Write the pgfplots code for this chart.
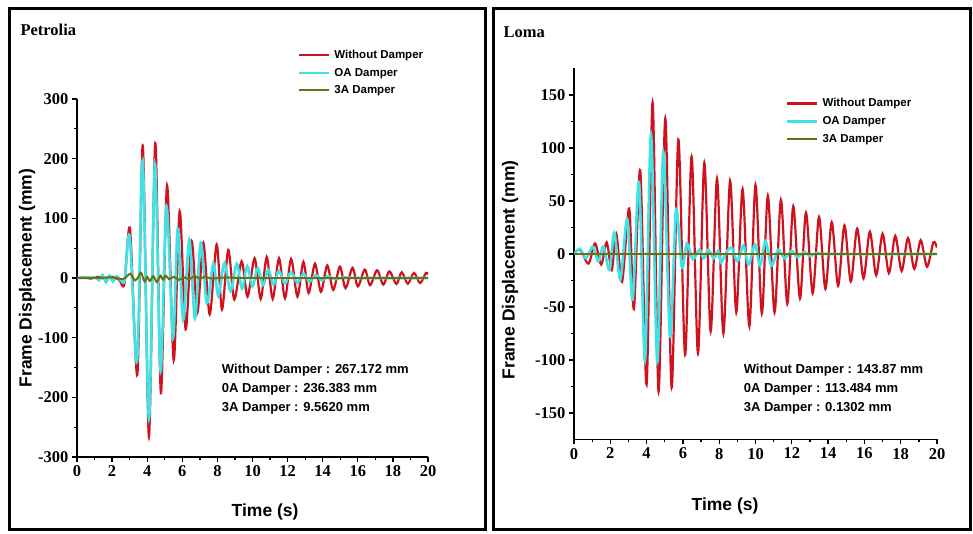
\documentclass[border=0pt]{standalone}
\usepackage{pgfplots}
\pgfplotsset{compat=1.18}
\usepackage{fontspec}
\setmainfont{Liberation Serif}
\setsansfont{Liberation Sans}
\definecolor{NoDamp}{HTML}{D0121F}
\definecolor{OADamp}{HTML}{3FE3E6}
\definecolor{ThreeADamp}{HTML}{6E6E12}

\pgfplotsset{
  panel/.style={
    scale only axis,
    anchor=south west,
    axis lines*=left,
    axis line style={line width=1.4pt},
    xmin=0, xmax=20,
    xtick={0,2,...,20},
    minor x tick num=1,
    minor y tick num=1,
    tick align=outside,
    major tick length=5pt,
    minor tick length=3pt,
    every tick/.style={line width=1.3pt, black},
    /pgf/number format/assume math mode=true,
    tick label style={font=\fontsize{16.5}{16.5}\selectfont\bfseries},
    label style={font=\sffamily\bfseries\fontsize{17.5}{19}\selectfont},
    legend cell align=left,
    legend image code/.code={\draw[#1] (0pt,0pt) -- (30pt,0pt);},
    legend style={draw=none, fill=none, anchor=north west,
      font=\sffamily\bfseries\fontsize{11.5}{13}\selectfont,
      row sep=4pt, column sep=2pt, nodes={inner sep=2pt}},
  },
  nod/.style={NoDamp, line width=2.2pt, smooth},
  oad/.style={OADamp, line width=2.6pt, smooth},
  tad/.style={ThreeADamp, line width=2pt, smooth},
}

\begin{document}
\begin{tikzpicture}[x=1pt,y=1pt]
\useasboundingbox (0,0) rectangle (973,534);
\draw[line width=3pt] (9,4) rectangle (485,525);
\draw[line width=3pt] (493,4) rectangle (970,525);
\node[anchor=west, font=\fontsize{16.5}{16.5}\selectfont\bfseries] at (17,504) {Petrolia};
\node[anchor=west, font=\fontsize{16.5}{16.5}\selectfont\bfseries] at (500,502) {Loma};

% Petrolia
\begin{axis}[panel,
  at={(77pt,77pt)}, width=351pt, height=358pt,
  ymin=-300, ymax=300, ytick={-300,-200,...,300},
  xlabel={Time (s)}, ylabel={Frame Displacement (mm)},
  xlabel style={at={(axis description cs:0.536,-0.154)}, anchor=center},
  ylabel style={at={(axis description cs:-0.142,0.5)}, anchor=center},
  legend style={at={(0.62,1.148)}},
]
\addplot[nod] coordinates {
(0,0) (0.4,1) (0.8,-1) (1.2,2) (1.6,-2) (2.0,2) (2.4,-3) (2.7,-10)
(3.02,82) (3.44,-162) (3.75,222) (4.1,-266) (4.46,226) (4.78,-193)
(5.13,155) (5.51,-138) (5.85,112) (6.19,-86) (6.53,62) (6.86,-58)
(7.2,59) (7.56,-61) (7.96,56) (8.26,-53) (8.62,47) (8.96,-36)
(9.38,28) (9.72,-31) (10.12,33) (10.47,-35) (10.81,35) (11.15,-35)
(11.51,33) (11.85,-34) (12.2,32) (12.56,-31) (12.9,27) (13.2,-25)
(13.56,24) (13.9,-23) (14.26,21) (14.6,-20) (14.98,19) (15.3,-17)
(15.7,17) (16.0,-14) (16.4,14) (16.7,-12) (17.1,13) (17.45,-11)
(17.8,11) (18.2,-10) (18.5,9.5) (18.85,-9.5) (19.2,8.5) (19.55,-8.5)
(19.88,8.5) (20,6)
};
\addplot[oad] coordinates {
(0,0) (1.0,1) (1.25,-4) (1.45,5) (1.65,-7) (1.85,4) (2.05,-6) (2.25,3)
(2.5,-4) (2.72,-3) (3.0,70) (3.42,-140) (3.74,196) (4.1,-236)
(4.44,190) (4.76,-156) (5.1,120) (5.47,-100) (5.74,82) (6.05,-70)
(6.4,64) (6.72,-68) (7.05,59) (7.4,-42) (7.77,24) (8.05,-30)
(8.4,25) (8.75,-22) (9.1,24) (9.4,-18) (9.7,20) (10.0,-14)
(10.3,17) (10.6,-12) (10.9,14) (11.2,-11) (11.5,12) (11.85,-9)
(12.2,10) (12.55,-8) (12.9,7) (13.25,-6) (13.6,5) (13.95,-4)
(14.3,3) (14.7,-2) (15.2,1) (16,0) (20,0)
};
\addplot[tad] coordinates {
(0,0) (1,0) (2,1) (2.6,-2) (2.85,3) (3.05,7) (3.3,-4) (3.5,2)
(3.65,9) (3.85,-6) (4.0,2) (4.15,-5) (4.35,3) (4.55,-7) (4.75,4)
(4.9,-3) (5.05,4) (5.25,-2) (5.5,2) (5.8,-3) (6.1,1) (6.4,-2)
(6.7,3) (7.0,-1) (7.3,2) (7.7,-1) (8.5,1) (10,0) (20,0)
};
\legend{Without Damper, OA Damper, 3A Damper}
\node[anchor=west, align=left, font=\sffamily\bfseries\fontsize{13}{19}\selectfont]
  at (rel axis cs:0.403,0.19)
  {Without Damper : 267.172 mm\\0A Damper : 236.383 mm\\3A Damper : 9.5620 mm};
\end{axis}

% Loma
\begin{axis}[panel,
  at={(574pt,94.5pt)}, width=363pt, height=371pt,
  ymin=-175, ymax=175, ytick={-150,-100,...,150},
  xlabel={Time (s)}, ylabel={Frame Displacement (mm)},
  xlabel style={at={(axis description cs:0.416,-0.179)}, anchor=center},
  ylabel style={at={(axis description cs:-0.176,0.457)}, anchor=center},
  legend style={at={(0.575,0.93)}},
]
\addplot[nod] coordinates {
(0,0) (0.33,4) (0.8,-9) (1.16,10) (1.5,-10) (1.8,11) (2.08,-15)
(2.33,19) (2.65,-26) (3.04,43) (3.3,-52) (3.65,79) (4.0,-123)
(4.33,143) (4.66,-130) (5.03,128) (5.38,-126) (5.75,108) (6.12,-95)
(6.48,92) (6.83,-94) (7.18,86) (7.53,-73) (7.88,71) (8.23,-75)
(8.6,69) (8.94,-55) (9.29,61) (9.66,-68) (10.0,65) (10.35,-56)
(10.68,55) (11.05,-55) (11.4,51) (11.75,-47) (12.08,45) (12.45,-42)
(12.78,39) (13.15,-37) (13.5,35) (13.85,-33) (14.2,30) (14.55,-30)
(14.9,27) (15.25,-26) (15.6,24) (15.95,-23) (16.3,21) (16.65,-20)
(17.0,19) (17.35,-18) (17.7,17) (18.05,-16) (18.4,15) (18.75,-14)
(19.1,13) (19.45,-12) (19.8,11) (20,6)
};
\addplot[oad] coordinates {
(0,0) (0.33,5) (0.66,-4) (1.03,7) (1.34,-7) (1.62,7) (1.95,-15)
(2.22,20) (2.55,-24) (2.93,33) (3.23,-43) (3.58,68) (3.91,-100)
(4.24,113) (4.59,-102) (4.92,96) (5.29,-78) (5.62,41) (5.95,-13)
(6.22,10) (6.55,-5) (6.9,4) (7.15,-4) (7.4,4) (7.7,-4) (7.95,3)
(8.1,-8) (8.45,3) (8.69,6) (9.0,-7) (9.33,8) (9.62,-10) (9.97,9)
(10.25,-11) (10.55,12) (10.88,-11) (11.25,4) (11.6,-4) (12.0,3)
(12.3,-3) (12.7,2) (13.0,-2) (13.4,1) (14,0) (20,0)
};
\addplot[tad] coordinates {
(0,0) (5,0) (10,0) (15,0) (20,0)
};
\legend{Without Damper, OA Damper, 3A Damper}
\node[anchor=west, align=left, font=\sffamily\bfseries\fontsize{13}{19}\selectfont]
  at (rel axis cs:0.458,0.136)
  {Without Damper : 143.87 mm\\0A Damper : 113.484 mm\\3A Damper : 0.1302 mm};
\end{axis}
\end{tikzpicture}
\end{document}
